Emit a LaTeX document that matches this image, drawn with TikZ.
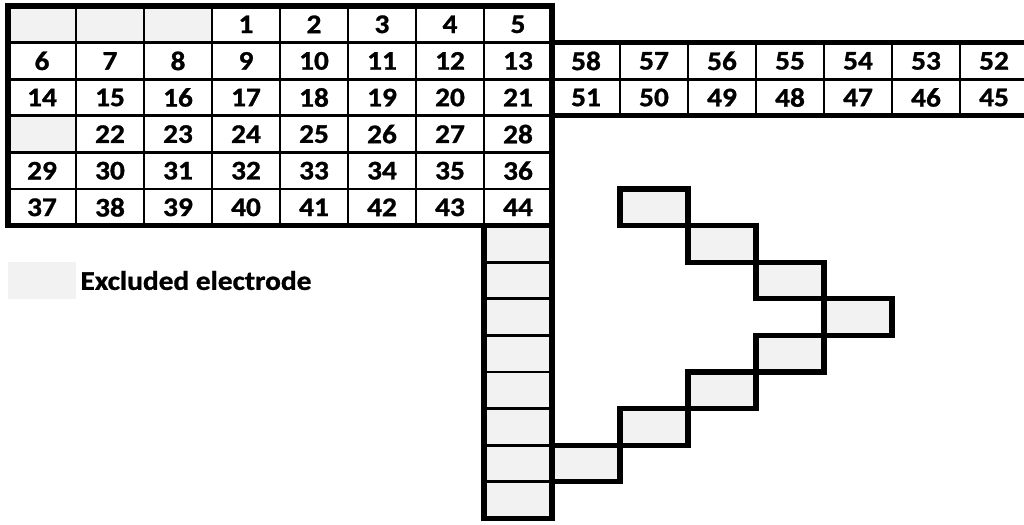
\documentclass[tikz,border=0pt]{standalone}
\usepackage{fontspec}
\setmainfont{Carlito}[FakeStretch=1.09, BoldFeatures={FakeBold=1}]
\usepackage{xcolor}
\usepackage{tikz}
\usetikzlibrary{positioning}
\definecolor{exgray}{HTML}{F2F2F2}
\tikzset{
  cell/.style={rectangle, draw=black, line width=2.1pt, minimum width=51pt,
               minimum height=27.45pt, inner sep=0pt, outer sep=0pt,
               font=\fontsize{20.2}{22}\selectfont\bfseries},
  excell/.style={cell, fill=exgray},
  stair/.style={excell, line width=3.9pt},
  outer/.style={draw=black, line width=3.9pt},
}

\begin{document}
\begin{tikzpicture}[x=51pt, y=-27.45pt]
  \useasboundingbox (-0.1176,-0.1639) rectangle (14.941,14.153);
  % excluded electrodes of the main block
  \node[excell] (g1) at (0.5,0.5) {};
  \node[excell] (g2) at (1.5,0.5) {};
  \node[excell] (g3) at (2.5,0.5) {};
  \node[excell] (g4) at (0.5,3.5) {};
  % numbered electrodes
  \foreach \n [count=\c from 3] in {1,...,5}
    \node[cell] (n\n) at (\c+0.5,0.5) {\n};
  \foreach \r/\s in {1/6, 2/14, 4/29, 5/37}
    \foreach \c in {0,...,7} {
      \pgfmathtruncatemacro\n{\s+\c}
      \node[cell] (n\n) at (\c+0.5,\r+0.5) {\n};
    }
  \foreach \c in {1,...,7} {
    \pgfmathtruncatemacro\n{21+\c}
    \node[cell] (n\n) at (\c+0.5,3.5) {\n};
  }
  % right arm, numbered backwards
  \foreach \c in {8,...,14} {
    \pgfmathtruncatemacro\n{66-\c}
    \node[cell] (n\n) at (\c+0.5,1.5) {\n};
    \pgfmathtruncatemacro\m{59-\c}
    \node[cell] (n\m) at (\c+0.5,2.5) {\m};
  }
  % lower column and staircase
  \foreach \r [count=\k] in {6,...,13}
    \node[excell] (v\k) at (7.5,\r+0.5) {};
  \foreach \c/\r [count=\k] in {9/5, 10/6, 11/7, 12/8, 11/9, 10/10, 9/11, 8/12}
    \node[stair] (s\k) at (\c+0.5,\r+0.5) {};
  % thick outlines
  \draw[outer] (g1.north west) rectangle (n44.south east);
  \draw[outer] (n58.north west) rectangle (n45.south east);
  \draw[outer] (v1.north west) rectangle (v8.south east);
  % legend
  \node[rectangle, fill=exgray, minimum width=51pt, minimum height=27.45pt,
        inner sep=0pt] (legend) at (0.5,7.5) {};
  \node[right=3pt of legend, inner sep=0pt,
        font=\fontsize{20.2}{22}\selectfont\bfseries] (legtext) {Excluded electrode};
\end{tikzpicture}
\end{document}
